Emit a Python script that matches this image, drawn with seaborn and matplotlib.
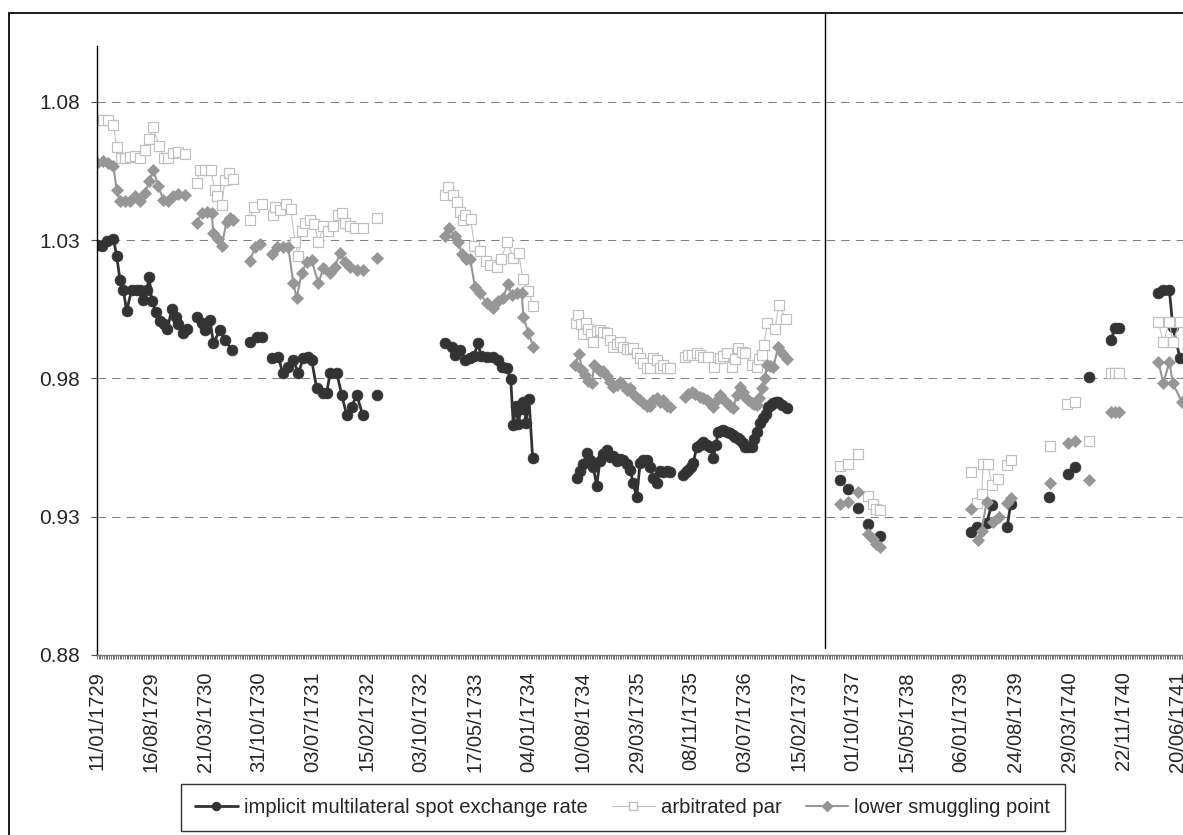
import numpy as np
import pandas as pd
import matplotlib
matplotlib.use("Agg")
import matplotlib.pyplot as plt
import seaborn as sns
from matplotlib.lines import Line2D
from matplotlib.patches import Rectangle

# ---------------- data (x = weekly category index, one sub-list per unbroken run) ----
tick_labels = ["11/01/1729", "16/08/1729", "21/03/1730", "31/10/1730", "03/07/1731",
               "15/02/1732", "03/10/1732", "17/05/1733", "04/01/1734", "10/08/1734",
               "29/03/1735", "08/11/1735", "03/07/1736", "15/02/1737", "01/10/1737",
               "15/05/1738", "06/01/1739", "24/08/1739", "29/03/1740", "22/11/1740",
               "20/06/1741"]
label_step = 31
y_ticks = [0.88, 0.93, 0.98, 1.03, 1.08]
break_at = 418

spot_x = [
    [0, 2.7, 5.5, 9.4, 11.3, 13.2, 15.1, 17.0, 19.9, 22.8, 24.7, 26.6, 28.5, 30.0, 31.4, 33.9,
     36.2, 38.3, 40.4, 42.9, 45.4, 46.7, 49.2, 51.5],
    [57.2, 60.1, 62.0, 64.9, 66.8, 70.6, 73.5, 77.3],
    [87.8, 91.7, 94.5],
    [100.3, 104.1, 106.6, 109.8, 112.7, 115.6, 118.4, 121.3, 123.2, 126.1, 129.9, 131.8, 133.8,
     137.6, 140.5, 143.3, 146.2, 149.1, 152.5],
    [160.5],
    [199.8, 203.6, 205.6, 208.4, 211.3, 214.2, 216.5, 218.6, 220.5, 223.7, 227.6, 230.4, 232.3,
     235.2, 237.5, 239.0, 240.5, 241.9, 243.3, 244.8, 246.3, 248.0, 250.1],
    [275.4, 277.3, 279.2, 281.1, 283.1, 285.0, 286.8, 288.7, 290.7, 292.6, 294.5, 296.5, 298.4,
     300.3, 302.2, 304.1, 306.0, 307.9, 309.8, 311.8, 313.7, 315.6, 317.5, 319.4, 321.3, 323.2,
     325.2, 327.1, 329.0],
    [336.6, 338.0, 339.5, 341.0, 342.3, 344.3, 346.2, 348.1, 350.0, 351.9, 353.8, 355.2, 356.7,
     358.2, 359.6, 361.5, 363.4, 365.0, 366.3, 367.7, 369.1, 370.6, 372.0, 373.9, 375.8, 377.2,
     378.7, 380.6, 382.5, 384.0, 385.4, 386.9, 388.3, 389.7, 391.1, 393.5, 395.9],
    [426.5], [431.1], [436.8], [442.6], [449.5],
    [501.5], [505.0], [510.7, 513.6], [522.5, 524.5],
    [546.7], [557.5, 561.4], [569.6],
    [581.9, 584.4, 586.9],
    [609.3, 612.2, 615.6, 617.6, 621.7],
]
spot_y = [
    [1.0283, 1.0277, 1.0295, 1.0305, 1.0243, 1.0155, 1.0120, 1.0044, 1.0120, 1.0120, 1.0120,
     1.0084, 1.0120, 1.0165, 1.0081, 1.0039, 1.0009, 0.9995, 0.9977, 1.0050, 1.0021, 0.9997,
     0.9965, 0.9978],
    [1.0021, 0.9999, 0.9975, 1.0011, 0.9927, 0.9975, 0.9939, 0.9903],
    [0.9933, 0.9951, 0.9951],
    [0.9873, 0.9879, 0.9818, 0.9842, 0.9867, 0.9818, 0.9873, 0.9879, 0.9867, 0.9764, 0.9746,
     0.9746, 0.9818, 0.9820, 0.9740, 0.9668, 0.9698, 0.9740, 0.9668],
    [0.9740],
    [0.9929, 0.9915, 0.9885, 0.9903, 0.9867, 0.9873, 0.9880, 0.9929, 0.9880, 0.9879, 0.9879,
     0.9867, 0.9842, 0.9836, 0.9798, 0.9631, 0.9700, 0.9635, 0.9690, 0.9715, 0.9640, 0.9725,
     0.9511],
    [0.9440, 0.9465, 0.9490, 0.9530, 0.9505, 0.9480, 0.9410, 0.9500, 0.9525, 0.9540, 0.9515,
     0.9520, 0.9500, 0.9510, 0.9505, 0.9490, 0.9470, 0.9420, 0.9370, 0.9495, 0.9505, 0.9505,
     0.9480, 0.9440, 0.9420, 0.9465, 0.9460, 0.9465, 0.9460],
    [0.9451, 0.9460, 0.9469, 0.9480, 0.9493, 0.9553, 0.9560, 0.9571, 0.9560, 0.9553, 0.9511,
     0.9560, 0.9607, 0.9610, 0.9613, 0.9605, 0.9601, 0.9595, 0.9589, 0.9583, 0.9577, 0.9565,
     0.9553, 0.9553, 0.9553, 0.9580, 0.9607, 0.9637, 0.9656, 0.9670, 0.9698, 0.9705, 0.9710,
     0.9714, 0.9716, 0.9705, 0.9692],
    [0.9433], [0.9400], [0.9333], [0.9272], [0.9230],
    [0.9243], [0.9262], [0.9277, 0.9342], [0.9262, 0.9346],
    [0.9370], [0.9453, 0.9480], [0.9806],
    [0.9937, 0.9981, 0.9981],
    [1.0108, 1.0120, 1.0120, 0.9987, 0.9873],
]

par_x = [
    [0, 3.6, 6.5, 9.4, 11.3, 13.6, 16.1, 18.9, 21.8, 24.7, 27.6, 30.0, 32.0, 35.8, 38.5, 40.9,
     43.8, 46.7, 50.5],
    [57.2, 59.1, 62.0, 65.3, 67.7, 69.1, 71.6, 73.5, 76.0, 77.9],
    [87.8, 90.1, 94.5],
    [100.8, 102.2, 105.1, 108.5, 111.2, 113.7, 115.6, 117.5, 119.4, 122.3, 124.6, 127.1, 129.9,
     132.8, 135.7, 138.5, 140.5, 142.4, 145.2, 148.1, 152.9],
    [160.5],
    [199.8, 201.7, 204.6, 206.5, 208.4, 210.3, 211.3, 214.5, 216.7, 219.9, 223.4, 225.6, 229.5,
     231.8, 235.6, 239.0, 242.1, 244.4, 247.6, 250.5],
    [275.0, 276.3, 277.8, 279.2, 280.6, 282.1, 283.6, 285.0, 286.8, 288.7, 290.7, 292.6, 294.5,
     296.4, 298.4, 300.2, 302.2, 304.1, 306.0, 307.9, 309.8, 311.7, 313.7, 315.6, 317.5, 319.4,
     321.3, 323.2, 325.2, 327.1, 329.0],
    [337.6, 339.5, 341.4, 344.3, 346.2, 348.1, 351.0, 354.2, 357.6, 359.6, 361.5, 364.3, 366.3,
     368.2, 370.0, 372.0, 375.8, 378.7, 380.2, 381.6, 382.9, 384.8, 389.2, 391.5, 395.5],
    [426.5], [431.1], [436.8], [442.6, 445.5, 447.4, 449.5],
    [501.5], [505.0, 507.8, 508.8, 511.6, 513.6, 517.4], [522.2, 524.5],
    [547.1], [557.0, 561.4], [569.6],
    [581.9, 584.4, 586.9],
    [609.3, 612.2, 615.6, 617.6, 621.7],
]
par_y = [
    [1.0735, 1.0735, 1.0735, 1.0716, 1.0636, 1.0596, 1.0596, 1.0600, 1.0603, 1.0595, 1.0626,
     1.0665, 1.0708, 1.0641, 1.0596, 1.0595, 1.0614, 1.0617, 1.0612],
    [1.0508, 1.0552, 1.0552, 1.0552, 1.0482, 1.0458, 1.0427, 1.0518, 1.0541, 1.0522],
    [1.0371, 1.0421, 1.0432],
    [1.0391, 1.0421, 1.0409, 1.0431, 1.0412, 1.0292, 1.0241, 1.0331, 1.0361, 1.0373, 1.0359,
     1.0292, 1.0349, 1.0331, 1.0349, 1.0391, 1.0397, 1.0361, 1.0349, 1.0343, 1.0343],
    [1.0379],
    [1.0464, 1.0490, 1.0464, 1.0439, 1.0401, 1.0373, 1.0392, 1.0377, 1.0277, 1.0259, 1.0223,
     1.0211, 1.0201, 1.0232, 1.0292, 1.0235, 1.0253, 1.0160, 1.0114, 1.0060],
    [1.0000, 1.0030, 0.9995, 0.9960, 1.0000, 0.9980, 0.9960, 0.9930, 0.9972, 0.9975, 0.9966,
     0.9963, 0.9940, 0.9912, 0.9925, 0.9933, 0.9915, 0.9905, 0.9905, 0.9909, 0.9890, 0.9873,
     0.9855, 0.9838, 0.9836, 0.9873, 0.9868, 0.9838, 0.9850, 0.9836, 0.9836],
    [0.9879, 0.9885, 0.9885, 0.9891, 0.9885, 0.9879, 0.9879, 0.9840, 0.9873, 0.9880, 0.9891,
     0.9842, 0.9870, 0.9909, 0.9895, 0.9891, 0.9848, 0.9842, 0.9870, 0.9885, 0.9921, 0.9999,
     0.9980, 1.0066, 1.0014],
    [0.9483], [0.9490], [0.9527], [0.9375, 0.9346, 0.9327, 0.9324],
    [0.9463], [0.9350, 0.9382, 0.9490, 0.9490, 0.9415, 0.9435], [0.9487, 0.9505],
    [0.9557], [0.9708, 0.9716], [0.9573],
    [0.9819, 0.9819, 0.9819],
    [1.0002, 0.9930, 1.0002, 0.9930, 1.0002],
]

smug_x = [
    [0, 3.6, 6.5, 9.4, 11.3, 13.2, 16.1, 18.9, 21.8, 24.7, 27.6, 30.0, 32.3, 35.2, 38.1, 40.9,
     43.8, 46.7, 50.5],
    [57.2, 60.1, 63.0, 65.8, 66.8, 69.7, 71.6, 74.4, 76.3, 78.3],
    [87.8, 90.7, 93.6],
    [100.3, 103.1, 107.0, 109.8, 112.7, 114.6, 117.5, 120.4, 123.2, 127.1, 129.9, 133.8, 136.6,
     139.5, 142.4, 145.2, 149.1, 152.9],
    [160.5],
    [199.8, 202.3, 205.6, 207.5, 209.4, 211.9, 214.2, 217.0, 219.9, 223.7, 227.6, 230.4, 233.3,
     235.8, 238.1, 241.0, 243.8, 244.8, 247.7, 250.5],
    [274.4, 276.8, 278.5, 280.2, 282.0, 284.0, 285.5, 286.8, 288.7, 290.7, 292.6, 294.5, 296.4,
     298.4, 300.2, 302.2, 304.1, 306.0, 307.9, 309.8, 311.7, 313.7, 315.6, 317.5, 319.4, 321.3,
     323.2, 325.2, 327.1, 329.0],
    [337.6, 339.5, 341.4, 343.3, 346.2, 348.1, 350.0, 351.9, 353.8, 355.7, 357.6, 359.6, 361.5,
     363.4, 365.3, 367.2, 369.1, 370.6, 372.0, 373.9, 375.8, 377.2, 378.7, 380.2, 381.6, 383.2,
     384.8, 386.5, 388.3, 391.1, 393.5, 395.9],
    [426.5, 431.1], [436.8], [442.6, 445.5, 447.4, 449.5],
    [501.5], [505.9, 507.8, 510.7], [514.5, 517.9], [522.2, 524.5],
    [547.1], [557.5, 561.4], [569.6],
    [581.9, 584.4, 586.9],
    [609.3, 612.2, 615.6, 617.6, 622.7],
]
smug_y = [
    [1.0580, 1.0584, 1.0580, 1.0566, 1.0482, 1.0440, 1.0440, 1.0440, 1.0458, 1.0440, 1.0470,
     1.0512, 1.0554, 1.0494, 1.0446, 1.0440, 1.0458, 1.0467, 1.0464],
    [1.0361, 1.0397, 1.0403, 1.0397, 1.0325, 1.0304, 1.0280, 1.0367, 1.0379, 1.0373],
    [1.0225, 1.0274, 1.0286],
    [1.0251, 1.0274, 1.0274, 1.0274, 1.0145, 1.0090, 1.0180, 1.0222, 1.0228, 1.0143, 1.0198,
     1.0180, 1.0204, 1.0252, 1.0222, 1.0204, 1.0192, 1.0192],
    [1.0234],
    [1.0313, 1.0343, 1.0313, 1.0293, 1.0251, 1.0233, 1.0233, 1.0130, 1.0108, 1.0072, 1.0053,
     1.0078, 1.0090, 1.0142, 1.0102, 1.0108, 1.0108, 1.0023, 0.9963, 0.9915],
    [0.9848, 0.9888, 0.9830, 0.9812, 0.9790, 0.9782, 0.9850, 0.9836, 0.9826, 0.9828, 0.9810,
     0.9788, 0.9770, 0.9775, 0.9788, 0.9775, 0.9758, 0.9764, 0.9745, 0.9728, 0.9720, 0.9710,
     0.9700, 0.9700, 0.9720, 0.9728, 0.9715, 0.9720, 0.9700, 0.9698],
    [0.9734, 0.9745, 0.9752, 0.9745, 0.9734, 0.9728, 0.9722, 0.9710, 0.9698, 0.9720, 0.9740,
     0.9725, 0.9710, 0.9700, 0.9692, 0.9740, 0.9770, 0.9750, 0.9734, 0.9720, 0.9710, 0.9706,
     0.9704, 0.9730, 0.9764, 0.9800, 0.9848, 0.9845, 0.9840, 0.9915, 0.9890, 0.9869],
    [0.9346, 0.9354], [0.9390], [0.9237, 0.9218, 0.9201, 0.9192],
    [0.9327], [0.9214, 0.9250, 0.9354], [0.9279, 0.9300], [0.9350, 0.9369],
    [0.9420], [0.9568, 0.9575], [0.9433],
    [0.9678, 0.9678, 0.9678],
    [0.9860, 0.9782, 0.9860, 0.9782, 0.9716],
]

series_names = ["implicit multilateral spot exchange rate", "arbitrated par",
                "lower smuggling point"]


def frame(xs, ys):
    rows = []
    for seg, (sx, sy) in enumerate(zip(xs, ys)):
        for x, y in zip(sx, sy):
            rows.append((x, y, seg))
    return pd.DataFrame(rows, columns=["x", "y", "seg"])


# ---------------- figure ----------------
W, H = 1183, 835
sns.set_theme(style="white")
plt.rcParams["font.family"] = ["Liberation Sans", "DejaVu Sans"]

fig = plt.figure(figsize=(W / 100, H / 100), dpi=100)
fig.patch.set_facecolor("white")

x_left_px, x_axis_px, y_top_px = 97, 655, 46.4
px_per_cat = 54.0 / label_step
x_max = 660
ax = fig.add_axes([x_left_px / W, (H - x_axis_px) / H,
                   x_max * px_per_cat / W, (x_axis_px - y_top_px) / H])
ax.set_facecolor("white")

styles = [
    dict(color="#333333", lw=2.0, marker="o", markersize=7.8, markerfacecolor="#333333",
         markeredgecolor="#333333", markeredgewidth=0.5),
    dict(color="#c4c4c4", lw=0.8, marker="s", markersize=6.6, markerfacecolor="white",
         markeredgecolor="#c0c0c0", markeredgewidth=0.9),
    dict(color="#969696", lw=1.5, marker="D", markersize=6.0, markerfacecolor="#969696",
         markeredgecolor="#969696", markeredgewidth=0.5),
]

for (xs, ys), st in zip([(spot_x, spot_y), (par_x, par_y), (smug_x, smug_y)], styles):
    df = frame(xs, ys)
    sns.lineplot(data=df, x="x", y="y", units="seg", estimator=None, ax=ax,
                 legend=False, **st)

ax.set_xlim(0, x_max)
ax.set_ylim(0.88, 1.10)

# y axis
ax.set_yticks(y_ticks)
ax.set_yticklabels([f"{v:.2f}" for v in y_ticks])
ax.yaxis.grid(True, color="#808080", linestyle=(0, (8, 6)), lw=0.75)
ax.xaxis.grid(False)
ax.tick_params(axis="y", direction="out", length=4.5, width=0.8, color="#555555",
               labelsize=15, pad=8, left=True)

# x axis (category style)
ax.set_xticks([i * label_step for i in range(len(tick_labels))])
ax.set_xticklabels(tick_labels, rotation=90)
ax.set_xticks(np.arange(0, x_max + 1), minor=True)
ax.tick_params(axis="x", which="both", direction="out", length=2.6, width=0.7,
               color="#707070", bottom=True)
ax.tick_params(axis="x", which="major", labelsize=14.5, pad=9)
ax.set_xlabel("")
ax.set_ylabel("")

for s in ["top", "right"]:
    ax.spines[s].set_visible(False)
ax.spines["left"].set_color("black")
ax.spines["left"].set_linewidth(1.0)
ax.spines["bottom"].set_color("#7a7a7a")
ax.spines["bottom"].set_linewidth(1.0)

# separator line between periods
ax.axvline(break_at, ymin=7 / (x_axis_px - y_top_px), ymax=(x_axis_px - 13) / (x_axis_px - y_top_px),
           color="black", lw=1.0, clip_on=False, zorder=1)

# chart-area frame (cut at the right and bottom edges of the picture)
fig.add_artist(Rectangle((9 / W, -0.5), 2.0, 0.5 + (H - 13) / H, transform=fig.transFigure,
                         fill=False, edgecolor="#1a1a1a", lw=1.4))

# legend
handles = [
    Line2D([], [], color="#333333", lw=2.0, marker="o", markersize=5.8,
           markerfacecolor="#333333", markeredgecolor="#333333"),
    Line2D([], [], color="#c4c4c4", lw=0.9, marker="s", markersize=5.2,
           markerfacecolor="white", markeredgecolor="#c0c0c0"),
    Line2D([], [], color="#969696", lw=1.5, marker="D", markersize=4.8,
           markerfacecolor="#969696", markeredgecolor="#969696"),
]
leg = fig.legend(handles, series_names, loc="upper left",
                 bbox_to_anchor=(181 / W, (H - 784) / H), ncol=3, frameon=True,
                 fancybox=False, shadow=False, fontsize=14.6, borderpad=0.7,
                 handlelength=2.1, handletextpad=0.3, columnspacing=1.2,
                 borderaxespad=0)
leg.get_frame().set_edgecolor("black")
leg.get_frame().set_linewidth(1.0)
leg.get_frame().set_facecolor("white")

fig.savefig("out.png", dpi=100, facecolor="white")
